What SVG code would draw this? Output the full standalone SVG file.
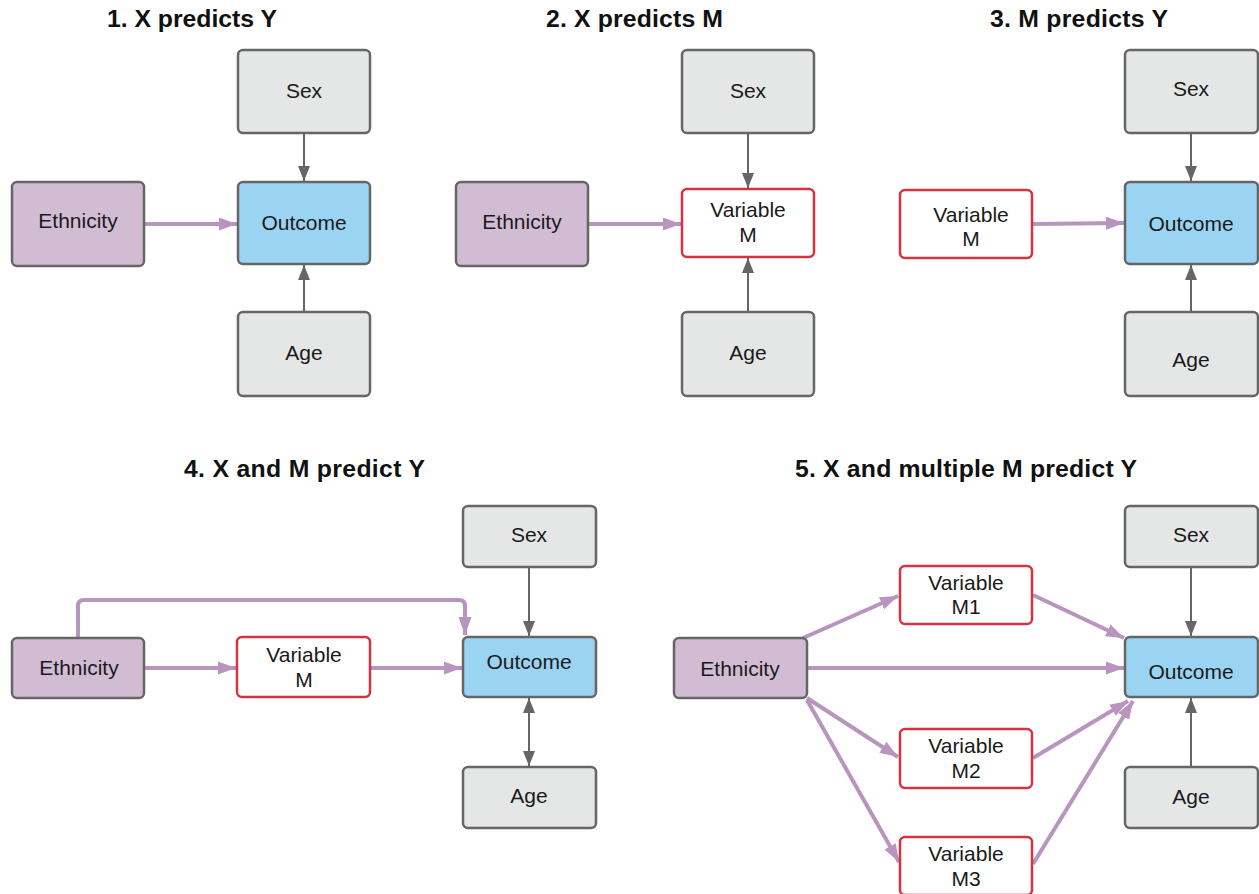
<svg xmlns="http://www.w3.org/2000/svg" width="1259" height="894" viewBox="0 0 1259 894">
<style>
.t{font-family:"Liberation Sans",Helvetica,Arial,sans-serif;font-size:24.8px;font-weight:bold;fill:#111;text-anchor:middle}
.l{font-family:"Liberation Sans",Helvetica,Arial,sans-serif;font-size:21px;fill:#1a1a1a;text-anchor:middle}
.g{fill:#e5e6e6;stroke:#666;stroke-width:2.5}
.p{fill:#d2bcd3;stroke:#666;stroke-width:2.5}
.b{fill:#9bd3f2;stroke:#666;stroke-width:2.5}
.r{fill:#fff;stroke:#d4333f;stroke-width:2.5}
.ag{stroke:#666;stroke-width:2;fill:none;marker-end:url(#mg)}
.ap{stroke:#b894bf;stroke-width:4;fill:none;marker-end:url(#mp)}
</style>
<defs>
<marker id="mg" markerUnits="userSpaceOnUse" markerWidth="15" markerHeight="12" refX="15" refY="6" orient="auto-start-reverse"><path d="M0,0L15,6L0,12z" fill="#666"/></marker>
<marker id="mp" markerUnits="userSpaceOnUse" markerWidth="18" markerHeight="13" refX="18" refY="6.5" orient="auto"><path d="M0,0L18,6.5L0,13z" fill="#b894bf"/></marker>
</defs>
<g id="titles">
<text class="t" x="192" y="27" textLength="170">1. X predicts Y</text>
<text class="t" x="634.5" y="27" textLength="177">2. X predicts M</text>
<text class="t" x="1079" y="27" textLength="178">3. M predicts Y</text>
<text class="t" x="304.5" y="477" textLength="241">4. X and M predict Y</text>
<text class="t" x="966" y="477" textLength="342">5. X and multiple M predict Y</text>
</g>
<g id="connectors">
<line class="ag" x1="304" y1="133" x2="304" y2="181"/>
<line class="ap" x1="144" y1="224" x2="237" y2="224"/>
<line class="ag" x1="304" y1="312" x2="304" y2="265"/>
<line class="ag" x1="748" y1="133" x2="748" y2="188"/>
<line class="ap" x1="588" y1="224" x2="681" y2="224"/>
<line class="ag" x1="748" y1="312" x2="748" y2="258"/>
<line class="ag" x1="1191" y1="133" x2="1191" y2="181"/>
<line class="ap" x1="1032" y1="224" x2="1124" y2="223"/>
<line class="ag" x1="1191" y1="312" x2="1191" y2="265"/>
<path class="ap" d="M78,638V606Q78,600 84,600H459Q465,600 465,606V635"/>
<line class="ap" x1="144" y1="668" x2="236" y2="668"/>
<line class="ap" x1="370" y1="668" x2="462" y2="668"/>
<line class="ag" x1="529" y1="567" x2="529" y2="636"/>
<line class="ag" x1="529" y1="698" x2="529" y2="766" marker-start="url(#mg)"/>
<line class="ap" x1="803" y1="638" x2="898" y2="596"/>
<line class="ap" x1="1033" y1="595" x2="1124" y2="638"/>
<line class="ap" x1="807" y1="668" x2="1124" y2="668"/>
<line class="ap" x1="807" y1="698" x2="898" y2="757"/>
<line class="ap" x1="1033" y1="758" x2="1128" y2="701"/>
<line class="ap" x1="807" y1="700" x2="899" y2="862"/>
<line class="ap" x1="1033" y1="864" x2="1133" y2="701"/>
<line class="ag" x1="1191" y1="567" x2="1191" y2="636"/>
<line class="ag" x1="1191" y1="767" x2="1191" y2="698"/>
</g>
<g id="p1-sex"><rect class="g" x="238" y="50" width="132" height="83" rx="5"/><text class="l" x="304" y="98">Sex</text></g>
<g id="p1-ethnicity"><rect class="p" x="12" y="182" width="132" height="84" rx="5"/><text class="l" x="78" y="228">Ethnicity</text></g>
<g id="p1-outcome"><rect class="b" x="238" y="182" width="132" height="82" rx="5"/><text class="l" x="304" y="230">Outcome</text></g>
<g id="p1-age"><rect class="g" x="238" y="312" width="132" height="84" rx="5"/><text class="l" x="304" y="360">Age</text></g>
<g id="p2-sex"><rect class="g" x="682" y="50" width="132" height="83" rx="5"/><text class="l" x="748" y="98">Sex</text></g>
<g id="p2-ethnicity"><rect class="p" x="456" y="182" width="132" height="84" rx="5"/><text class="l" x="522" y="229">Ethnicity</text></g>
<g id="p2-varm"><rect class="r" x="682" y="189" width="132" height="68" rx="5"/><text class="l" x="748" y="216.5">Variable</text><text class="l" x="748" y="241.5">M</text></g>
<g id="p2-age"><rect class="g" x="682" y="312" width="132" height="84" rx="5"/><text class="l" x="748" y="360">Age</text></g>
<g id="p3-sex"><rect class="g" x="1125" y="50" width="133" height="83" rx="5"/><text class="l" x="1191" y="96">Sex</text></g>
<g id="p3-varm"><rect class="r" x="900" y="190" width="132" height="68" rx="5"/><text class="l" x="971" y="221.5">Variable</text><text class="l" x="971" y="245.5">M</text></g>
<g id="p3-outcome"><rect class="b" x="1125" y="182" width="133" height="82" rx="5"/><text class="l" x="1191" y="231">Outcome</text></g>
<g id="p3-age"><rect class="g" x="1125" y="312" width="133" height="84" rx="5"/><text class="l" x="1191" y="366.5">Age</text></g>
<g id="p4-sex"><rect class="g" x="463" y="506" width="133" height="61" rx="5"/><text class="l" x="529" y="542">Sex</text></g>
<g id="p4-ethnicity"><rect class="p" x="12" y="638" width="132" height="60" rx="5"/><text class="l" x="79" y="675">Ethnicity</text></g>
<g id="p4-varm"><rect class="r" x="237" y="637" width="133" height="60" rx="5"/><text class="l" x="304" y="662">Variable</text><text class="l" x="304" y="687">M</text></g>
<g id="p4-outcome"><rect class="b" x="463" y="637" width="133" height="60" rx="5"/><text class="l" x="529" y="669">Outcome</text></g>
<g id="p4-age"><rect class="g" x="463" y="767" width="133" height="61" rx="5"/><text class="l" x="529" y="803">Age</text></g>
<g id="p5-sex"><rect class="g" x="1125" y="506" width="133" height="61" rx="5"/><text class="l" x="1191" y="542">Sex</text></g>
<g id="p5-ethnicity"><rect class="p" x="674" y="638" width="133" height="60" rx="5"/><text class="l" x="740" y="676">Ethnicity</text></g>
<g id="p5-m1"><rect class="r" x="900" y="566" width="132" height="58" rx="5"/><text class="l" x="966" y="590">Variable</text><text class="l" x="966" y="614">M1</text></g>
<g id="p5-outcome"><rect class="b" x="1125" y="637" width="133" height="60" rx="5"/><text class="l" x="1191" y="679">Outcome</text></g>
<g id="p5-m2"><rect class="r" x="900" y="729" width="132" height="59" rx="5"/><text class="l" x="966" y="753">Variable</text><text class="l" x="966" y="778">M2</text></g>
<g id="p5-m3"><rect class="r" x="900" y="837" width="132" height="58" rx="5"/><text class="l" x="966" y="861">Variable</text><text class="l" x="966" y="886">M3</text></g>
<g id="p5-age"><rect class="g" x="1125" y="767" width="133" height="61" rx="5"/><text class="l" x="1191" y="804">Age</text></g>
</svg>
